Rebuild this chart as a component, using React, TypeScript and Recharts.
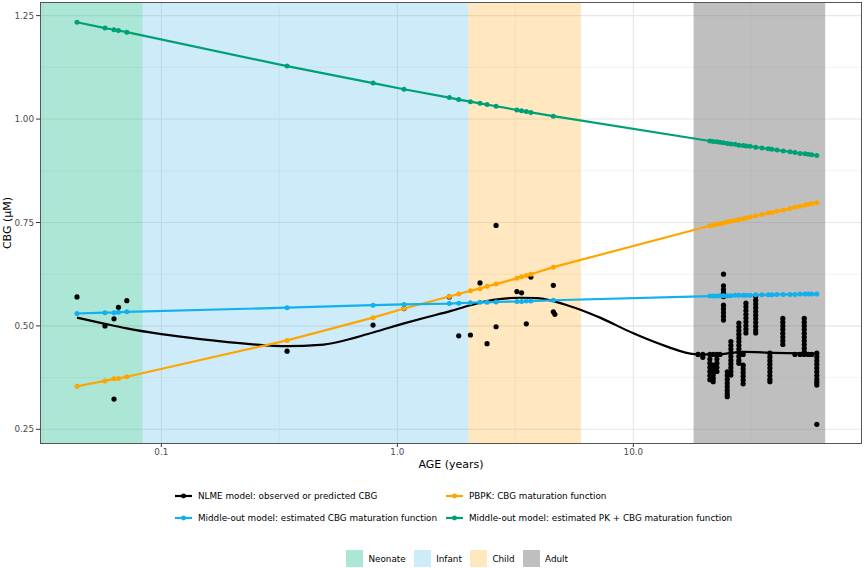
import React from 'react';
import {
  CartesianGrid,
  ComposedChart,
  ReferenceArea,
  Scatter,
  XAxis,
  YAxis,
} from 'recharts';

// ages (years) at which the model curves have points
const modelAges = [
  0.0439, 0.0577, 0.063, 0.0658, 0.0714,
  0.341, 0.789, 1.067, 1.661, 1.82, 2.04, 2.24, 2.4, 2.62, 3.21, 3.36, 3.52, 3.68, 4.58,
  21.1, 21.8, 22.6, 23.3, 24.1, 25.0, 25.9, 27.0, 28.0, 29.2, 30.0, 31.2, 33.0, 35.1, 37.3,
  38.6, 40.6, 43.2, 46.1, 48.4, 50.9, 53.4, 55.1, 57.0, 59.9,
];
const pbpkCbg = [
  0.354, 0.367, 0.372, 0.373, 0.377,
  0.465, 0.52, 0.542, 0.571, 0.577, 0.585, 0.59, 0.596, 0.601, 0.615, 0.619, 0.622, 0.625, 0.642,
  0.742, 0.744, 0.746, 0.747, 0.749, 0.751, 0.753, 0.755, 0.757, 0.759, 0.761, 0.763, 0.766,
  0.769, 0.773, 0.774, 0.777, 0.78, 0.784, 0.787, 0.789, 0.792, 0.794, 0.795, 0.798,
];
const middleOutCbg = [
  0.53, 0.532, 0.532, 0.533, 0.534,
  0.544, 0.55, 0.552, 0.554, 0.555, 0.556, 0.557, 0.557, 0.558, 0.559, 0.559, 0.56, 0.56, 0.562,
  0.572, 0.572, 0.572, 0.573, 0.573, 0.573, 0.573, 0.574, 0.574, 0.574, 0.574, 0.574, 0.575,
  0.575, 0.575, 0.575, 0.576, 0.576, 0.576, 0.576, 0.577, 0.577, 0.577, 0.577, 0.577,
];
const middleOutPkCbg = [
  1.234, 1.22, 1.216, 1.214, 1.21,
  1.128, 1.087, 1.072, 1.052, 1.047, 1.042, 1.038, 1.035, 1.031, 1.022, 1.02, 1.018, 1.016, 1.007,
  0.947, 0.946, 0.945, 0.944, 0.943, 0.941, 0.94, 0.939, 0.937, 0.936, 0.935, 0.934, 0.932,
  0.93, 0.928, 0.927, 0.925, 0.923, 0.921, 0.919, 0.917, 0.916, 0.915, 0.914, 0.912,
];

// NLME predicted curve
const nlmeAges = [
  0.0439, 0.0577, 0.0714, 0.1, 0.146, 0.238, 0.341, 0.47, 0.789, 1.067, 1.332, 1.661, 2.038,
  2.551, 3.311, 3.896, 4.58, 5.569, 6.554, 7.225, 10, 13.9, 18.1, 22.6, 29.2, 39.1, 60.0,
];
const nlmeCbg = [
  0.52, 0.505, 0.494, 0.48, 0.468, 0.456, 0.451, 0.454, 0.484, 0.506, 0.521, 0.535, 0.55,
  0.563, 0.568, 0.567, 0.56, 0.545, 0.53, 0.52, 0.482, 0.45, 0.432, 0.431, 0.437, 0.435, 0.433,
];

// observed CBG, children
const obsAges = [
  0.0439, 0.0577, 0.063, 0.063, 0.0658, 0.0714, 0.341, 0.789, 1.067, 1.661, 1.82, 2.04, 2.24,
  2.4, 2.62, 2.62, 3.21, 3.36, 3.52, 3.68, 4.58, 4.58, 4.65,
];
const obsCbg = [
  0.57, 0.5, 0.517, 0.323, 0.545, 0.561, 0.439, 0.502, 0.542, 0.57, 0.476, 0.478, 0.604,
  0.457, 0.743, 0.498, 0.583, 0.58, 0.505, 0.618, 0.598, 0.534, 0.528,
];

// observed CBG, adults (columns of values per age)
const adultObsAges = [
  18.8, 19.7, 21.1, 21.8, 22.6, 23.3, 24.1, 25.0, 25.9, 28.0, 29.2, 30.0, 33.0, 37.9, 43.0,
  48.4, 50.9, 53.0, 55.1, 57.0, 59.9,
];
const adultObsCbg = [
  [0.431],
  [0.431, 0.424],
  [0.431, 0.42, 0.41, 0.4, 0.39, 0.38, 0.37],
  [0.431, 0.405, 0.397, 0.389, 0.381, 0.373, 0.365],
  [0.431, 0.42, 0.41, 0.4, 0.39],
  [0.431],
  [0.625, 0.597, 0.588, 0.58, 0.571, 0.55, 0.541, 0.532, 0.523, 0.514],
  [0.389, 0.38, 0.371, 0.362, 0.353, 0.344, 0.336, 0.329],
  [0.462, 0.453, 0.444, 0.435, 0.426, 0.417, 0.408, 0.399, 0.39, 0.381],
  [0.507, 0.498, 0.489, 0.48, 0.471, 0.462, 0.453, 0.444, 0.435, 0.426, 0.417, 0.41],
  [0.431, 0.405, 0.396, 0.387, 0.378, 0.369, 0.36],
  [0.555, 0.546, 0.537, 0.528, 0.519, 0.51, 0.501, 0.492, 0.483],
  [0.571, 0.562, 0.553, 0.544, 0.535, 0.526, 0.517, 0.508, 0.499, 0.49, 0.483],
  [0.434, 0.425, 0.416, 0.407, 0.398, 0.389, 0.38, 0.371, 0.365],
  [0.518, 0.509, 0.5, 0.491, 0.482, 0.473, 0.464, 0.455],
  [0.431],
  [0.431],
  [0.518, 0.509, 0.5, 0.491, 0.482, 0.473, 0.464, 0.455, 0.446, 0.437, 0.431],
  [0.431],
  [0.431],
  [0.434, 0.425, 0.416, 0.407, 0.398, 0.389, 0.38, 0.371, 0.364, 0.357, 0.262],
];

// age groups (years)
const groupNames = ['Neonate', 'Infant', 'Child', 'Adult'];
const groupFrom = [0.0306, 0.0833, 2, 18];
const groupTo = [0.0833, 2, 6, 65];
const groupColors = ['#12B68C', '#4FB6EC', '#FFA500', '#7F7F7F'];
const groupOpacity = [0.35, 0.28, 0.25, 0.5];

const xTicks = [0.1, 1, 10];
const xMinor = [0.0316, 0.316, 3.16, 31.6];
const yTicks = [0.25, 0.5, 0.75, 1.0, 1.25];
const yMinor = [0.375, 0.625, 0.875, 1.125];

const BLACK = '#000000';
const ORANGE = '#FFA500';
const BLUE = '#10B1EC';
const GREEN = '#00A077';

const toPoints = (ages: number[], vals: number[]) => ages.map((age, i) => ({ age, cbg: vals[i] }));

const obsData = [
  ...toPoints(obsAges, obsCbg),
  ...adultObsAges.flatMap((age, i) => adultObsCbg[i].map((cbg) => ({ age, cbg }))),
];

const dot = (color: string, r: number) => (p: any) => <circle cx={p.cx} cy={p.cy} r={r} fill={color} />;
const noDot = () => <g />;

const legendItems = [
  { label: 'NLME model: observed or predicted CBG', color: BLACK },
  { label: 'PBPK: CBG maturation function', color: ORANGE },
  { label: 'Middle-out model: estimated CBG maturation function', color: BLUE },
  { label: 'Middle-out model: estimated PK + CBG maturation function', color: GREEN },
];

const FONT = '"DejaVu Sans", Verdana, sans-serif';

function LineKey({ color }: { color: string }) {
  return (
    <svg width={17} height={12} style={{ display: 'block' }}>
      <line x1={0} x2={17} y1={6} y2={6} stroke={color} strokeWidth={2.2} />
      <circle cx={8.5} cy={6} r={2.4} fill={color} />
    </svg>
  );
}

export default function App() {
  return (
    <div style={{ position: 'relative', width: 865, height: 568, fontFamily: FONT, background: '#fff' }}>
      <style>{'body{margin:0}'}</style>
      <ComposedChart width={865} height={475} margin={{ top: 2, right: 3, bottom: 0, left: 0 }}>
        <CartesianGrid horizontalValues={yMinor} verticalValues={xMinor} stroke="#EBEBEB" strokeWidth={0.6} />
        <CartesianGrid horizontalValues={yTicks} verticalValues={xTicks} stroke="#E6E6E6" strokeWidth={1.1} />
        {groupNames.map((g, i) => (
          <ReferenceArea
            key={g}
            x1={groupFrom[i]}
            x2={groupTo[i]}
            fill={groupColors[i]}
            fillOpacity={groupOpacity[i]}
            stroke="none"
            ifOverflow="hidden"
          />
        ))}
        <XAxis
          type="number"
          dataKey="age"
          scale="log"
          domain={[0.0306, 93.1]}
          allowDataOverflow
          ticks={xTicks}
          tickFormatter={(v: number) => (v < 1 ? String(v) : v.toFixed(1))}
          height={31}
          axisLine={false}
          tickSize={3}
          tickLine={{ stroke: '#333' }}
          tick={{ fontSize: 8.8, fill: '#4D4D4D', fontFamily: FONT }}
        />
        <YAxis
          type="number"
          dataKey="cbg"
          domain={[0.2145, 1.283]}
          allowDataOverflow
          ticks={yTicks}
          tickFormatter={(v: number) => v.toFixed(2)}
          width={40}
          axisLine={false}
          tickSize={4}
          tickLine={{ stroke: '#333' }}
          tick={{ fontSize: 8.8, fill: '#4D4D4D', fontFamily: FONT }}
        />
        <Scatter data={obsData} shape={dot(BLACK, 2.6)} isAnimationActive={false} />
        <Scatter
          data={toPoints(nlmeAges, nlmeCbg)}
          shape={noDot}
          line={{ stroke: BLACK, strokeWidth: 2.2 }}
          lineJointType="monotoneX"
          isAnimationActive={false}
        />
        <Scatter
          data={toPoints(modelAges, pbpkCbg)}
          shape={dot(ORANGE, 2.5)}
          line={{ stroke: ORANGE, strokeWidth: 2.2 }}
          isAnimationActive={false}
        />
        <Scatter
          data={toPoints(modelAges, middleOutCbg)}
          shape={dot(BLUE, 2.5)}
          line={{ stroke: BLUE, strokeWidth: 2.2 }}
          isAnimationActive={false}
        />
        <Scatter
          data={toPoints(modelAges, middleOutPkCbg)}
          shape={dot(GREEN, 2.5)}
          line={{ stroke: GREEN, strokeWidth: 2.2 }}
          isAnimationActive={false}
        />
      </ComposedChart>

      {/* panel border */}
      <div
        style={{
          position: 'absolute', left: 40, top: 2, width: 822, height: 442,
          border: '1px solid #555', boxSizing: 'border-box', pointerEvents: 'none',
        }}
      />

      {/* axis titles */}
      <div style={{ position: 'absolute', left: 40, width: 822, top: 458, textAlign: 'center', fontSize: 11, lineHeight: '13px' }}>
        AGE (years)
      </div>
      <div
        style={{
          position: 'absolute', left: 7, top: 223, fontSize: 11, lineHeight: '13px', whiteSpace: 'nowrap',
          transform: 'translate(-50%, -50%) rotate(-90deg)',
        }}
      >
        CBG (μM)
      </div>

      {/* series legend */}
      <div
        style={{
          position: 'absolute', left: 175, top: 489, display: 'grid',
          gridTemplateColumns: '271px auto', rowGap: 8, fontSize: 8.8,
        }}
      >
        {legendItems.map((it) => (
          <div key={it.label} style={{ display: 'flex', alignItems: 'center', height: 14 }}>
            <LineKey color={it.color} />
            <span style={{ marginLeft: 6, whiteSpace: 'nowrap' }}>{it.label}</span>
          </div>
        ))}
      </div>

      {/* age group legend */}
      <div style={{ position: 'absolute', left: 346, top: 550, display: 'flex', alignItems: 'center', fontSize: 8.8 }}>
        {groupNames.map((g, i) => (
          <div key={g} style={{ display: 'flex', alignItems: 'center', marginRight: 8 }}>
            <div style={{ width: 17, height: 17, background: groupColors[i], opacity: groupOpacity[i] }} />
            <span style={{ marginLeft: 5.5 }}>{g}</span>
          </div>
        ))}
      </div>
    </div>
  );
}
